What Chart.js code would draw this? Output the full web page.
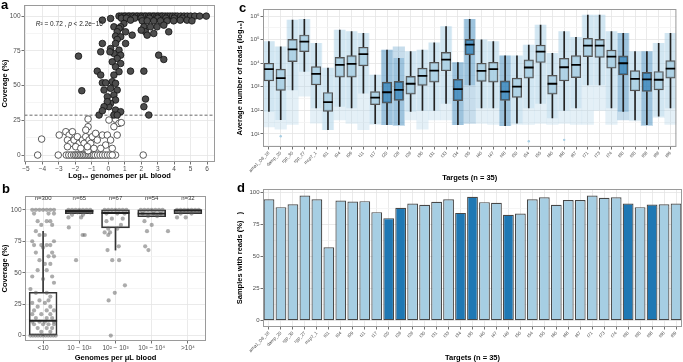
<!DOCTYPE html>
<html>
<head>
<meta charset="utf-8">
<script src="https://cdn.jsdelivr.net/npm/chart.js@4.4.1/dist/chart.umd.min.js"></script>
<style>
  body { margin: 0; background: #fff; font-family: "Liberation Sans", Arial, sans-serif; }
  #wrap { position: relative; width: 683px; height: 362px; overflow: hidden; }
  canvas { position: absolute; }
  .tag { position: absolute; font-weight: bold; font-size: 13px; line-height: 1; color: #000; }
</style>
</head>
<body>
<div id="wrap">
  <canvas id="chartA" width="222" height="180" style="left:0;top:0"></canvas>
  <canvas id="chartB" width="222" height="182" style="left:0;top:180px"></canvas>
  <canvas id="chartC" width="448" height="182" style="left:235px;top:0"></canvas>
  <canvas id="chartD" width="448" height="180" style="left:235px;top:182px"></canvas>
  <div class="tag" style="left:1px;top:-2px">a</div>
  <div class="tag" style="left:2px;top:182px">b</div>
  <div class="tag" style="left:239px;top:1px">c</div>
  <div class="tag" style="left:237px;top:181px">d</div>
</div>
<script>
// ---------- panel a : coverage vs log10 genomes ----------
const genomeTicks = [-5, -4, -3, -2, -1, 0, 1, 2, 3, 4, 5, 6];
const coverageTicks = [0, 25, 50, 75, 100];
const coverageCutoff = 28.7;
// points above the cut-off (filled)
const coveredPoints = [
  [0.65,100],[0.8,100],[0.95,100],[1.05,100],[1.2,100],[1.3,100],[1.45,100],[1.55,100],[1.7,100],[1.8,100],
  [1.95,100],[2.05,100],[2.2,100],[2.3,100],[2.45,100],[2.55,100],[2.7,100],[2.8,100],[2.95,100],[3.05,100],
  [3.2,100],[3.3,100],[3.45,100],[3.6,100],[3.75,100],[3.9,100],[4.05,100],[4.2,100],[4.4,100],[4.6,100],
  [4.8,100],[5.0,100],[5.25,100],[5.55,100],[5.95,100],
  [0.8,98.5],[1.1,98.5],[1.6,98.5],[2.0,98.5],[2.5,98.5],[3.0,98.5],[3.5,98.5],[4.0,98.5],[4.5,98.5],
  [-0.36,97.1],[0.14,98.3],[1.35,97.1],[0.95,94.7],[0.75,92.3],[1.05,88.7],[1.45,86.3],
  [2.06,96.6],[2.36,96.6],[2.76,96.6],[3.17,96.6],[3.57,96.6],[2.16,92.3],[2.56,92.3],[2.96,92.3],[3.37,93.5],
  [2.26,88.7],[2.76,87.5],[3.67,88.7],[2.36,86.3],[2.0,89.9],[4.78,97.1],[5.08,96.6],[4.37,97.1],[3.97,96.6],
  [0.34,92.3],[0.65,91.1],[0.54,88.7],[0.44,85.6],[0.75,85.1],[0.54,83.2],[0.44,80.3],[1.05,80.3],[0.14,76.7],
  [0.65,75.5],[0.34,73.1],[0.75,71.9],[0.54,69.5],[0.24,67.1],[0.75,65.9],[0.44,63.5],[0.65,60],[0.34,57.6],
  [0.24,52.8],[0.44,51.6],[0.14,48],[0.54,46.8],[0.34,43.2],[0.44,39.6],[0.14,37.2],[0.04,34.8],[0.44,32.4],
  [0.75,31.2],[0.34,28.8],[0.54,28.8],
  [-0.36,80.3],[-0.46,74.3],[0.1,74.3],[-0.67,60.4],[-0.46,57.6],[-0.36,52],[-0.16,52],[-0.26,46.8],
  [-0.06,42],[-0.06,38.4],[-0.26,34.8],[-0.56,28.8],[-0.36,31.9],
  [-1.81,71.2],[-1.61,46.3],[1.35,60.4],[2.16,60.4],[2.26,40.3],[2.16,34.8],[2.46,28.8],[3.06,71.9],[3.37,68.8]
];
// points below the cut-off (open)
const lowPoints = [
  [-4.29,0],[-3.04,0],[2.12,0],[0.44,0],
  [-2.55,0],[-2.4,0],[-2.25,0],[-2.1,0],[-2.0,0],[-1.9,0],[-1.8,0],[-1.7,0],[-1.6,0],[-1.5,0],[-1.4,0],
  [-1.3,0],[-1.2,0],[-1.1,0],[-1.0,0],[-0.9,0],[-0.8,0],[-0.65,0],[-0.5,0],[-0.35,0],[-0.2,0],[-0.05,0],
  [0.1,0],[0.24,0],
  [-1.23,3.1],[-2.58,16.8],[-2.38,14.4],[-2.18,16.8],[-2.48,10.8],[-2.28,8.4],[-2.08,10.8],[-1.88,13.2],
  [-1.77,8.4],[-1.57,10.8],[-1.37,13.2],[-1.47,8.4],[-1.17,10.8],[-1.07,8.4],[-1.27,6],[-1.98,6],[-1.67,4.8],
  [-0.87,4.8],[-0.97,13.2],[-0.67,10.8],[-0.77,15.6],[-2.48,6],
  [-4.05,11.5],[-2.98,14.4],[-1.23,25.9],[-1.23,20.4],[-1.37,18],
  [-0.36,14.4],[-0.06,14.4],[0.54,14.4],[0.14,10.8],[-0.16,7.2],[-0.46,4.8],[0.24,4.8],[0.44,25.7],
  [0.04,25.2],[0.65,22.8],[0.79,23.3],[0.34,20.4]
];

// ---------- panel b : coverage by genome bins ----------
const binLabels = ['<10', '10 − 10²', '10² − 10³', '10³ − 10⁴', '>10⁴'];
const binN = [300, 65, 67, 54, 32];
const binQ1 = [0, 97, 85.6, 94.5, 97];
const binMedian = [11.8, 99, 97.5, 97, 99.5];
const binQ3 = [34.5, 100, 100, 100, 100];
const binWhiskerLo = [0, 97, 68, 94.5, 97];
const binWhiskerHi = [83, 100, 100, 100, 100];
// [jitter offset, coverage] per bin
const binPts0 = [
  [-0.3,100],[-0.2,100],[-0.1,100],[0,100],[0.1,100],[0.2,100],[0.3,100],[-0.25,97],[0.15,97],[0.3,97],
  [-0.15,91],[0.1,91],[0.2,91],[-0.05,88],[0.25,88],[-0.2,83],[0.05,80],[-0.1,80],[-0.3,75],[0.3,75],
  [-0.25,72],[-0.05,72],[0.1,72],[0.2,72],[0,70],[-0.2,66],[0.25,66],[0.3,63],[0.15,63],[-0.1,60],
  [0.05,57],[0.2,57],[-0.15,52],[0.1,52],[-0.3,47],[0.25,47],[0,45],[0.3,42],[-0.35,37],[-0.2,34],[0.1,34],
  [0.2,31],[-0.1,28],[0.15,28],[-0.3,26],[0.05,26],[0.2,23],[-0.15,23],[-0.25,20],[0.1,20],[0.3,20],
  [-0.05,17],[0.2,17],[-0.3,17],[0.1,14],[-0.2,14],[0.25,14],[-0.3,11],[-0.1,11],[0.05,11],[0.3,11],
  [-0.25,9],[0,9],[0.15,9],[0.3,9],[-0.15,6],[0.1,6],[0.25,6],[-0.05,3],[0.2,3],
  [-0.35,0],[-0.28,0],[-0.21,0],[-0.14,0],[-0.07,0],[0,0],[0.07,0],[0.14,0],[0.21,0],[0.28,0],[0.35,0]
];
const binPts1 = [
  [-0.3,100],[-0.2,100],[-0.1,100],[0,100],[0.1,100],[0.2,100],[0.3,100],[-0.25,98],[-0.05,98],[0.15,98],
  [0.3,98],[-0.2,96],[0.1,96],[-0.3,94],[0.05,94],[-0.29,86],[0.09,80],[0.15,80],[-0.09,60]
];
const binPts2 = [
  [-0.3,100],[-0.2,100],[-0.1,100],[0,100],[0.1,100],[0.2,100],[0.3,100],[-0.25,97],[0.05,97],[0.25,97],
  [-0.1,93],[0.2,93],[-0.25,91],[0.15,88],[-0.2,85],[0.05,85],[-0.3,82],[-0.15,82],[-0.2,80],[0.09,71],
  [-0.22,68],[-0.09,60],[0.1,60],[0.26,40],[-0.02,34],[-0.19,28],[-0.13,0]
];
const binPts3 = [
  [-0.3,100],[-0.2,100],[-0.1,100],[0,100],[0.1,100],[0.2,100],[0.3,100],[-0.25,97],[0.05,97],[0.25,97],
  [-0.1,95],[0.15,95],[-0.2,91],[0,88],[-0.13,83],[0.45,83],[-0.18,71],[-0.09,68]
];
const binPts4 = [
  [-0.3,100],[-0.2,100],[-0.1,100],[0,100],[0.1,100],[0.2,100],[0.3,100],[-0.2,97],[0.1,97],[-0.3,94],[-0.06,94]
];

// ---------- panels c / d : per target ----------
const targets = ['ama1_D6_18','damp_20','rgp_30','rgp_27','msp7_1','t01','t04','t09','t11','t17','t20','t26',
  't28','t30','t31','t33','t34','t35','t40','t47','t48','t50','t54','t55','t60','t66','t67','t71','t73','t74',
  't80','t85','t86','t88','t89'];
const darkTargets = ['t20','t26','t34','t35','t48','t80','t86'];
// log10 of average reads
const medianExp = [3.75,3.37,4.59,4.92,3.55,2.35,3.93,3.97,4.39,2.54,2.77,2.87,3.13,3.46,3.69,4.15,2.9,4.79,
  3.68,3.75,2.8,3.01,3.82,4.49,3.13,3.83,3.93,4.75,4.75,4.28,4.0,3.34,3.32,3.3,3.77];
const q1Exp = [3.25,2.85,4.07,4.49,3.08,1.96,3.41,3.41,3.89,2.24,2.31,2.42,2.69,3.06,3.2,3.68,2.41,4.35,
  3.23,3.2,2.42,2.55,3.37,4.03,2.69,3.25,3.39,4.28,4.25,3.79,3.51,2.83,2.8,2.87,3.37];
const q3Exp = [4.0,3.75,5.01,5.2,3.86,2.76,4.25,4.32,4.68,2.8,3.2,3.23,3.44,3.79,4.04,4.46,3.32,5.01,
  4.0,4.04,3.25,3.37,4.14,4.77,3.49,4.21,4.32,5.06,5.01,4.56,4.31,3.69,3.61,3.65,4.11];
const whiskerLoExp = [1.96,1.61,2.87,3.65,2.1,1.18,2.17,2.1,2.73,1.44,1.39,1.39,1.96,2.0,2.0,2.3,1.39,3.08,
  2.1,2.1,1.35,1.46,2.1,2.3,1.68,2.0,2.1,3.08,3.08,2.1,1.96,1.6,1.39,1.75,2.1];
const whiskerHiExp = [4.92,4.7,5.83,5.86,4.85,3.79,5.41,5.34,5.27,3.5,4.56,4.21,4.49,4.56,4.87,5.55,4.03,5.86,
  4.99,4.92,4.31,4.31,4.77,5.62,4.42,5.34,5.1,6.04,6.04,5.34,5.27,4.49,4.49,4.85,5.27];
const pointLoExp = [1.3,1.2,1.4,2.6,1.46,1.18,1.6,1.45,1.18,1.4,1.39,1.35,1.6,1.2,1.6,1.6,1.39,1.45,
  1.45,1.4,1.35,1.4,1.4,1.45,1.4,1.45,1.4,1.4,2.0,1.4,1.6,1.55,1.35,1.7,1.4];
const pointHiExp = [4.92,4.7,5.83,5.86,4.85,3.79,5.41,5.34,5.27,3.5,4.56,4.7,4.49,4.56,4.87,5.55,4.03,5.86,
  4.99,4.92,4.31,4.31,4.77,5.62,4.42,5.34,5.1,6.04,6.04,5.34,5.27,4.49,4.49,4.85,5.27];
const outlierExp = [['damp_20', 0.9], ['t54', 0.69], ['t66', 0.75]];
const readTickExp = [1, 2, 3, 4, 5, 6];
const samplesWithReads = [95.0,88.8,91.1,97.9,95.0,57.4,94.0,93.2,93.5,84.9,80.2,88.3,91.6,90.6,93.0,95.0,
  84.3,96.9,92.7,92.2,82.8,83.8,95.0,96.6,90.6,94.3,94.3,97.9,96.1,96.6,91.6,88.8,90.9,91.1,91.6];

// ---------- shared helpers ----------
Chart.defaults.font.family = "'Liberation Sans', Arial, sans-serif";
Chart.defaults.color = '#4d4d4d';

const LIGHT = '#a6cee3', DARK = '#1f78b4';
const isDark = name => darkTargets.includes(name);
const pow10 = e => Math.pow(10, e);
const sup = { '0':'⁰','1':'¹','2':'²','3':'³','4':'⁴','5':'⁵','6':'⁶','7':'⁷','8':'⁸','9':'⁹' };

const frame = {
  id: 'frame',
  afterDatasetsDraw(chart) {
    const { ctx, chartArea: a } = chart;
    ctx.save();
    ctx.strokeStyle = '#9a9a9a';
    ctx.lineWidth = 1;
    ctx.strokeRect(a.left + 0.5, a.top + 0.5, a.width - 1, a.height - 1);
    ctx.restore();
  }
};

function axisTitle(text) {
  return { display: true, text, color: '#000', font: { size: 7.5, weight: 'bold' }, padding: 0 };
}
function gridOpts(isMinor) {
  return {
    color: c => (c.tick && isMinor(c.tick.value)) ? '#f3f3f3' : '#e4e4e4',
    tickColor: c => (c.tick && isMinor(c.tick.value)) ? 'rgba(0,0,0,0)' : '#4d4d4d',
    tickLength: 2.5,
    lineWidth: 0.8
  };
}
const baseOpts = {
  responsive: false,
  animation: false,
  devicePixelRatio: 1,
  plugins: { legend: { display: false }, tooltip: { enabled: false } }
};

// half steps between the labelled ticks give the minor grid
function withMinor(vals) {
  const out = [];
  vals.forEach((v, i) => {
    out.push(v);
    if (i < vals.length - 1) out.push((v + vals[i + 1]) / 2);
  });
  return out;
}

// ---------- chart a ----------
const minorGenome = v => !genomeTicks.includes(v);
const minorCov = v => !coverageTicks.includes(v);

new Chart(document.getElementById('chartA'), {
  type: 'scatter',
  data: {
    datasets: [
      { data: coveredPoints.map(p => ({ x: p[0], y: p[1] })), backgroundColor: '#4d4d4d',
        borderColor: '#111', borderWidth: 0.8, pointRadius: 3.3 },
      { data: lowPoints.map(p => ({ x: p[0], y: p[1] })), backgroundColor: '#fff',
        borderColor: '#333', borderWidth: 0.8, pointRadius: 3.3 },
      { type: 'line', data: [{ x: -6, y: coverageCutoff }, { x: 7, y: coverageCutoff }],
        borderColor: '#444', borderWidth: 0.8, borderDash: [3, 2], pointRadius: 0 }
    ]
  },
  options: {
    ...baseOpts,
    layout: { padding: { top: 5, right: 7 } },
    scales: {
      x: {
        type: 'linear', min: -5.12, max: 6.48,
        afterBuildTicks: s => { s.ticks = withMinor(genomeTicks).map(v => ({ value: v })); },
        afterFit: s => { s.height = 18; },
        ticks: { font: { size: 6.5 }, padding: 1, maxRotation: 0,
          callback: v => genomeTicks.includes(v) ? String(v).replace('-', '−') : '' },
        grid: gridOpts(minorGenome),
        border: { display: false },
        title: axisTitle('Log₁₀ genomes per μL blood')
      },
      y: {
        min: -5, max: 108,
        afterBuildTicks: s => { s.ticks = withMinor(coverageTicks).map(v => ({ value: v })); },
        afterFit: s => { s.width = 24; },
        ticks: { font: { size: 6.5 }, padding: 1, callback: v => coverageTicks.includes(v) ? String(v) : '' },
        grid: gridOpts(minorCov),
        border: { display: false },
        title: axisTitle('Coverage (%)')
      }
    }
  },
  plugins: [frame, {
    id: 'r2label',
    afterDatasetsDraw(chart) {
      const { ctx, scales: { x, y } } = chart;
      let px = x.getPixelForValue(-4.4);
      const py = y.getPixelForValue(94);
      ctx.save();
      ctx.fillStyle = '#222';
      ctx.textBaseline = 'middle';
      const parts = [['R', true], ['² = 0.72 , ', false], ['p', true], [' < 2.2e−16', false]];
      parts.forEach(([t, it]) => {
        ctx.font = (it ? 'italic ' : '') + "6.5px 'Liberation Sans', Arial, sans-serif";
        ctx.fillText(t, px, py);
        px += ctx.measureText(t).width;
      });
      ctx.restore();
    }
  }]
});

// ---------- chart b ----------
const binIdx = binLabels.map((_, i) => i);
const binPts = [binPts0, binPts1, binPts2, binPts3, binPts4];
const jitterData = [];
binPts.forEach((pts, i) => pts.forEach(p => jitterData.push({ x: i + p[0], y: p[1] })));

new Chart(document.getElementById('chartB'), {
  type: 'bar',
  data: {
    datasets: [
      { type: 'line', data: binIdx.map(i => ({ x: i, y: binMedian[i] })), showLine: false, pointStyle: 'line',
        pointRadius: 14, borderColor: '#222', borderWidth: 2 },
      { type: 'scatter', data: jitterData, backgroundColor: 'rgba(90,90,90,0.5)',
        borderWidth: 0, pointRadius: 2.1 },
      { data: binIdx.map(i => ({ x: i, y: [binQ1[i], binQ3[i]] })), grouped: false, barThickness: 28,
        backgroundColor: 'rgba(255,255,255,0)', borderColor: '#333', borderWidth: 1, borderSkipped: false },
      { data: binIdx.map(i => ({ x: i, y: [binQ3[i], binWhiskerHi[i]] })), grouped: false, barThickness: 1,
        backgroundColor: '#333' },
      { data: binIdx.map(i => ({ x: i, y: [binWhiskerLo[i], binQ1[i]] })), grouped: false, barThickness: 1,
        backgroundColor: '#333' }
    ]
  },
  options: {
    ...baseOpts,
    layout: { padding: { top: 8, right: 7 } },
    scales: {
      x: {
        type: 'linear', min: -0.5, max: 4.5, offset: false,
        afterBuildTicks: s => { s.ticks = binIdx.map(v => ({ value: v })); },
        afterFit: s => { s.height = 21; },
        ticks: { font: { size: 6.5 }, padding: 1, maxRotation: 0, callback: v => binLabels[v] },
        grid: { offset: false, color: '#e4e4e4', tickColor: '#4d4d4d', tickLength: 2.5, lineWidth: 0.8 },
        border: { display: false },
        title: axisTitle('Genomes per μL blood')
      },
      y: {
        min: -4.3, max: 111,
        afterBuildTicks: s => { s.ticks = withMinor(coverageTicks).map(v => ({ value: v })); },
        afterFit: s => { s.width = 25; },
        ticks: { font: { size: 6.5 }, padding: 1, callback: v => coverageTicks.includes(v) ? String(v) : '' },
        grid: gridOpts(minorCov),
        border: { display: false },
        title: axisTitle('Coverage (%)')
      }
    }
  },
  plugins: [frame, {
    id: 'nlabels',
    afterDatasetsDraw(chart) {
      const { ctx, scales: { x, y } } = chart;
      ctx.save();
      ctx.fillStyle = '#333';
      ctx.font = "6px 'Liberation Sans', Arial, sans-serif";
      ctx.textAlign = 'center';
      ctx.textBaseline = 'middle';
      binN.forEach((n, i) => ctx.fillText('n=' + n, x.getPixelForValue(i), y.getPixelForValue(108.8)));
      ctx.restore();
    }
  }]
});

// ---------- chart c ----------
const readMinor = v => Math.abs(Math.log10(v) - Math.round(Math.log10(v))) > 0.01;
const readGrid = withMinor(readTickExp);
readGrid.unshift(0.5);

new Chart(document.getElementById('chartC'), {
  type: 'bar',
  data: {
    labels: targets,
    datasets: [
      { type: 'line', data: medianExp.map(pow10), showLine: false, pointStyle: 'line', pointRadius: 4.8,
        borderColor: '#000', borderWidth: 1.8 },
      { type: 'line', data: targets.map(t => { const o = outlierExp.find(d => d[0] === t); return o ? pow10(o[1]) : null; }),
        showLine: false, pointRadius: 1.2, borderWidth: 0,
        backgroundColor: targets.map(t => isDark(t) ? DARK : LIGHT) },
      { data: q1Exp.map((q, i) => [pow10(q), pow10(q3Exp[i])]), grouped: false, barThickness: 9.5,
        backgroundColor: targets.map(t => isDark(t) ? 'rgba(31,120,180,0.6)' : 'rgba(166,206,227,0.75)'),
        borderColor: '#555', borderWidth: 1.2, borderSkipped: false },
      { data: q3Exp.map((q, i) => [pow10(q), pow10(whiskerHiExp[i])]), grouped: false, barThickness: 1,
        backgroundColor: '#222' },
      { data: q1Exp.map((q, i) => [pow10(whiskerLoExp[i]), pow10(q)]), grouped: false, barThickness: 1,
        backgroundColor: '#222' },
      // dense part of the jittered reads
      { data: whiskerLoExp.map((lo, i) => [pow10(lo), pow10(whiskerHiExp[i])]), grouped: false, barThickness: 10,
        backgroundColor: targets.map(t => isDark(t) ? 'rgba(31,120,180,0.25)' : 'rgba(166,206,227,0.3)') },
      // full spread of the jittered reads
      { data: pointLoExp.map((lo, i) => [pow10(lo), pow10(pointHiExp[i])]), grouped: false, barThickness: 11.5,
        backgroundColor: targets.map(t => isDark(t) ? 'rgba(31,120,180,0.25)' : 'rgba(166,206,227,0.3)') }
    ]
  },
  options: {
    ...baseOpts,
    layout: { padding: { top: 9, right: 1 } },
    scales: {
      x: {
        afterFit: s => { s.height = 35; },
        ticks: { font: { size: 4.5 }, padding: 1, minRotation: 45, maxRotation: 45, autoSkip: false, color: '#4d4d4d' },
        grid: { offset: false, color: '#e4e4e4', tickColor: '#4d4d4d', tickLength: 2.5, lineWidth: 0.8 },
        border: { display: false },
        title: axisTitle('Targets (n = 35)')
      },
      y: {
        type: 'logarithmic', min: 2.8, max: 2e6,
        afterBuildTicks: s => { s.ticks = readGrid.map(e => ({ value: pow10(e) })); },
        afterFit: s => { s.width = 28; },
        ticks: { font: { size: 6 }, padding: 1,
          callback: v => readMinor(v) ? '' : '10' + sup[String(Math.round(Math.log10(v)))] },
        grid: gridOpts(readMinor),
        border: { display: false },
        title: axisTitle('Average number of reads (log₁₀)')
      }
    }
  },
  plugins: [frame]
});

// ---------- chart d ----------
const pctTicks = [0, 25, 50, 75, 100];
new Chart(document.getElementById('chartD'), {
  type: 'bar',
  data: {
    labels: targets,
    datasets: [{
      data: samplesWithReads,
      backgroundColor: targets.map(t => isDark(t) ? DARK : LIGHT),
      borderColor: '#474747', borderWidth: 1.2, borderSkipped: false,
      categoryPercentage: 0.9, barPercentage: 1
    }]
  },
  options: {
    ...baseOpts,
    layout: { padding: { top: 7, right: 1 } },
    scales: {
      x: {
        afterFit: s => { s.height = 35; },
        ticks: { font: { size: 4.5 }, padding: 1, minRotation: 45, maxRotation: 45, autoSkip: false, color: '#4d4d4d' },
        grid: { offset: false, color: '#e4e4e4', tickColor: '#4d4d4d', tickLength: 2.5, lineWidth: 0.8 },
        border: { display: false },
        title: axisTitle('Targets (n = 35)')
      },
      y: {
        min: -5, max: 103,
        afterBuildTicks: s => { s.ticks = withMinor(pctTicks).map(v => ({ value: v })); },
        afterFit: s => { s.width = 28; },
        ticks: { font: { size: 6 }, padding: 1, callback: v => pctTicks.includes(v) ? String(v) : '' },
        grid: gridOpts(v => !pctTicks.includes(v)),
        border: { display: false },
        title: axisTitle('Samples with reads (%)   )')
      }
    }
  },
  plugins: [frame]
});
</script>
</body>
</html>
